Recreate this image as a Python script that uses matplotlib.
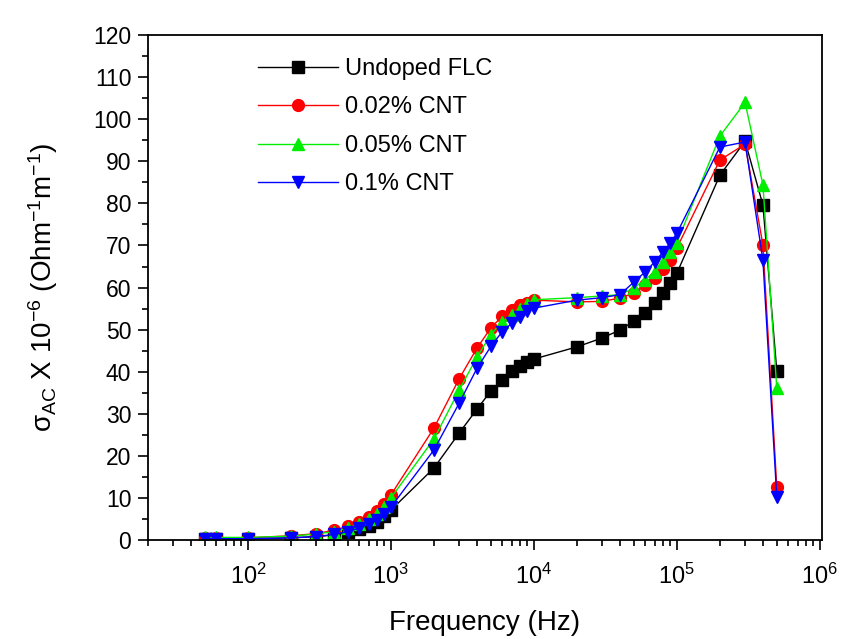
import matplotlib
matplotlib.use("Agg")
import matplotlib.pyplot as plt
from matplotlib.ticker import MultipleLocator, LogLocator, NullFormatter

plt.rcParams['font.family'] = ['Liberation Sans', 'DejaVu Sans']
plt.rcParams['mathtext.fontset'] = 'custom'
plt.rcParams['mathtext.rm'] = 'Liberation Sans'
plt.rcParams['mathtext.it'] = 'Liberation Sans:italic'
plt.rcParams['mathtext.default'] = 'regular'

freq = [50, 60, 100, 200, 300, 400, 500, 600, 700, 800, 900,
        1e3, 2e3, 3e3, 4e3, 5e3, 6e3, 7e3, 8e3, 9e3,
        1e4, 2e4, 3e4, 4e4, 5e4, 6e4, 7e4, 8e4, 9e4,
        1e5, 2e5, 3e5, 4e5, 5e5]

undoped = [0.2, 0.2, 0.2, 0.5, 0.8, 1.2, 1.8, 2.5, 3.3, 4.3, 5.6,
           7.1, 17.1, 25.4, 31.1, 35.4, 38.0, 40.2, 41.4, 42.3,
           43.0, 45.9, 48.0, 49.9, 52.0, 54.0, 56.3, 58.7, 61.0,
           63.4, 86.7, 94.8, 79.6, 40.2]
cnt002 = [0.5, 0.5, 0.5, 1.0, 1.5, 2.3, 3.2, 4.3, 5.5, 6.8, 8.5,
          10.7, 26.6, 38.3, 45.6, 50.4, 53.2, 54.6, 55.8, 56.4,
          57.0, 56.6, 56.7, 57.5, 58.7, 60.6, 62.2, 64.4, 66.5,
          69.4, 90.3, 94.1, 70.1, 12.6]
cnt005 = [0.6, 0.6, 0.6, 0.9, 1.4, 2.0, 2.8, 3.8, 4.9, 6.2, 7.8,
          10.0, 24.0, 35.6, 43.5, 48.8, 51.9, 53.4, 54.9, 56.0,
          57.1, 57.6, 58.0, 58.3, 59.9, 61.9, 63.8, 66.0, 68.4,
          70.6, 96.0, 104.0, 84.4, 36.1]
cnt01 = [0.3, 0.3, 0.3, 0.5, 0.8, 1.3, 2.0, 2.8, 3.8, 4.8, 6.2,
         7.8, 21.4, 32.5, 40.8, 46.0, 49.5, 51.5, 52.9, 54.5,
         55.1, 57.0, 57.6, 58.3, 61.3, 63.7, 66.1, 68.4, 70.6,
         72.9, 93.4, 94.6, 66.5, 10.2]

series = [
    ("Undoped FLC", undoped, "black", "s"),
    ("0.02% CNT", cnt002, "red", "o"),
    ("0.05% CNT", cnt005, "#00ee00", "^"),
    ("0.1% CNT", cnt01, "blue", "v"),
]

fig = plt.figure(figsize=(8.41, 6.39), dpi=100)
ax = fig.add_axes([0.176, 0.155, 0.801, 0.790])

for label, vals, color, marker in series:
    ax.plot(freq, vals, color=color, marker=marker, markersize=8.5,
            linewidth=1.0, label=label)

ax.set_xscale('log')
ax.set_xlim(20, 1.03e6)
ax.set_ylim(0, 120)
ax.yaxis.set_major_locator(MultipleLocator(10))
ax.yaxis.set_minor_locator(MultipleLocator(5))
ax.xaxis.set_major_locator(LogLocator(base=10, numticks=10))
ax.xaxis.set_minor_locator(LogLocator(base=10, subs=range(2, 10), numticks=20))
ax.xaxis.set_minor_formatter(NullFormatter())

ax.tick_params(which='both', direction='out', top=False, right=False, width=1.2)
ax.tick_params(which='major', length=7)
ax.tick_params(which='minor', length=4)
ax.tick_params(axis='y', labelsize=16.5, pad=5)
ax.tick_params(axis='x', labelsize=17, pad=10)
for sp in ax.spines.values():
    sp.set_linewidth(1.3)

ax.set_xlabel("Frequency (Hz)", fontsize=20, labelpad=15)
ax.set_ylabel(r"$\sigma_{AC}$ X 10$^{-6}$ (Ohm$^{-1}$m$^{-1}$)", fontsize=20,
              labelpad=24)

ax.legend(loc='upper left', bbox_to_anchor=(0.131, 0.997), frameon=False,
          fontsize=17, handlelength=3.4, handletextpad=0.3, labelspacing=0.7)

fig.savefig("out.png", dpi=100)
